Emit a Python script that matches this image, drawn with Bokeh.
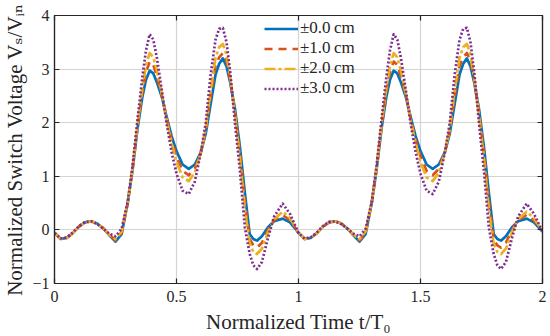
from bokeh.plotting import figure
from bokeh.models import (LinearAxis, Range1d, Legend, LegendItem, FixedTicker,
                          CustomJSTickFormatter)
from bokeh.embed import file_html
from bokeh.resources import INLINE

# Normalized time t/T0
t = [0, 0.025, 0.05, 0.075, 0.1, 0.125, 0.15, 0.175, 0.2, 0.225, 0.25, 0.275, 0.3, 0.32,
     0.34, 0.36, 0.375, 0.39, 0.405, 0.42, 0.44, 0.46, 0.48, 0.5, 0.525, 0.55, 0.575, 0.6,
     0.62, 0.64, 0.66, 0.675, 0.69, 0.705, 0.72, 0.74, 0.76, 0.78, 0.8, 0.815, 0.83, 0.85,
     0.875, 0.9, 0.935, 0.965,
     1.0, 1.025, 1.05, 1.075, 1.1, 1.125, 1.15, 1.175, 1.2, 1.225, 1.25, 1.275, 1.3, 1.32,
     1.34, 1.36, 1.375, 1.39, 1.405, 1.42, 1.44, 1.46, 1.48, 1.5, 1.525, 1.55, 1.575, 1.6,
     1.62, 1.64, 1.66, 1.675, 1.69, 1.705, 1.72, 1.74, 1.76, 1.78, 1.8, 1.815, 1.83, 1.85,
     1.875, 1.9, 1.935, 1.965, 2.0]

v_0cm = [-0.05, -0.17, -0.15, -0.06, 0.06, 0.14, 0.16, 0.12, 0.03, -0.10, -0.22, -0.08, 0.50,
         1.12, 1.88, 2.48, 2.80, 2.97, 2.92, 2.75, 2.48, 2.10, 1.75, 1.47, 1.22, 1.14, 1.22,
         1.45, 1.80, 2.35, 2.90, 3.10, 3.20, 3.05, 2.75, 2.25, 1.55, 0.70, -0.08, -0.17,
         -0.20, -0.12, 0.05, 0.16, 0.21, 0.14,
         -0.05, -0.17, -0.15, -0.06, 0.06, 0.14, 0.16, 0.12, 0.03, -0.10, -0.22, -0.08, 0.50,
         1.12, 1.88, 2.48, 2.80, 2.97, 2.92, 2.75, 2.48, 2.10, 1.75, 1.47, 1.22, 1.14, 1.22,
         1.45, 1.80, 2.35, 2.90, 3.10, 3.20, 3.05, 2.75, 2.25, 1.55, 0.70, -0.08, -0.17,
         -0.20, -0.12, 0.05, 0.16, 0.21, 0.14, -0.03]

v_1cm = [-0.05, -0.17, -0.15, -0.06, 0.06, 0.14, 0.16, 0.12, 0.03, -0.09, -0.20, -0.06, 0.50,
         1.14, 1.92, 2.57, 2.94, 3.14, 3.08, 2.86, 2.51, 2.07, 1.68, 1.37, 1.10, 1.02, 1.14,
         1.45, 1.85, 2.49, 3.06, 3.22, 3.30, 3.16, 2.80, 2.18, 1.44, 0.54, -0.17, -0.29,
         -0.33, -0.24, 0.00, 0.18, 0.28, 0.18,
         -0.05, -0.17, -0.15, -0.06, 0.06, 0.14, 0.16, 0.12, 0.03, -0.09, -0.20, -0.06, 0.50,
         1.14, 1.92, 2.57, 2.94, 3.14, 3.08, 2.86, 2.51, 2.07, 1.68, 1.37, 1.10, 1.02, 1.14,
         1.45, 1.85, 2.49, 3.06, 3.22, 3.30, 3.16, 2.80, 2.18, 1.44, 0.54, -0.17, -0.29,
         -0.33, -0.24, 0.00, 0.18, 0.28, 0.18, -0.03]

v_2cm = [-0.05, -0.17, -0.15, -0.06, 0.06, 0.14, 0.16, 0.12, 0.03, -0.09, -0.17, -0.03, 0.51,
         1.16, 1.96, 2.66, 3.06, 3.30, 3.22, 2.97, 2.54, 2.04, 1.61, 1.27, 0.98, 0.91, 1.07,
         1.45, 1.90, 2.61, 3.21, 3.41, 3.47, 3.27, 2.85, 2.12, 1.33, 0.39, -0.26, -0.41,
         -0.45, -0.35, -0.05, 0.20, 0.34, 0.22,
         -0.05, -0.17, -0.15, -0.06, 0.06, 0.14, 0.16, 0.12, 0.03, -0.09, -0.17, -0.03, 0.51,
         1.16, 1.96, 2.66, 3.06, 3.30, 3.22, 2.97, 2.54, 2.04, 1.61, 1.27, 0.98, 0.91, 1.07,
         1.45, 1.90, 2.61, 3.21, 3.41, 3.47, 3.27, 2.85, 2.12, 1.33, 0.39, -0.26, -0.41,
         -0.45, -0.35, -0.05, 0.20, 0.34, 0.22, -0.03]

v_3cm = [-0.06, -0.16, -0.14, -0.05, 0.07, 0.15, 0.16, 0.11, 0.02, -0.07, -0.12, 0.02, 0.52,
         1.20, 2.05, 2.85, 3.35, 3.65, 3.55, 3.20, 2.60, 1.97, 1.45, 1.05, 0.73, 0.67, 0.90,
         1.45, 2.00, 2.90, 3.55, 3.75, 3.77, 3.50, 2.95, 1.98, 1.10, 0.05, -0.45, -0.66,
         -0.73, -0.60, -0.15, 0.25, 0.49, 0.30,
         -0.06, -0.16, -0.14, -0.05, 0.07, 0.15, 0.16, 0.11, 0.02, -0.07, -0.12, 0.02, 0.52,
         1.20, 2.05, 2.85, 3.35, 3.65, 3.55, 3.20, 2.60, 1.97, 1.45, 1.05, 0.73, 0.67, 0.90,
         1.45, 2.00, 2.90, 3.55, 3.75, 3.77, 3.50, 2.95, 1.98, 1.10, 0.05, -0.45, -0.66,
         -0.73, -0.60, -0.15, 0.25, 0.49, 0.30, -0.03]

series = [v_0cm, v_1cm, v_2cm, v_3cm]
labels = ["\u00b10.0\u2009cm", "\u00b11.0\u2009cm", "\u00b12.0\u2009cm", "\u00b13.0\u2009cm"]
x_ticks = [0, 0.5, 1, 1.5, 2]
y_ticks = [-1, 0, 1, 2, 3, 4]

colors = ["#0072BD", "#D95319", "#EDB120", "#7E2F8E"]
dashes = ["solid", "8 6", "11 3 3 3", "2 2"]

FONT = "'Liberation Serif', 'DejaVu Serif', serif"
AX = "#262626"

p = figure(width=550, height=336, output_backend="svg", toolbar_location=None,
           x_range=Range1d(0, 2), y_range=Range1d(-1, 4),
           min_border_left=53, min_border_right=8, min_border_top=15, min_border_bottom=53)
p.outline_line_color = AX
p.outline_line_width = 1.2
p.background_fill_color = "white"
p.border_fill_color = "white"

fmt = CustomJSTickFormatter(code="return (tick < 0 ? '\\u2212' : '') + Math.abs(tick).toString();")

for ax, ticks in ((p.xaxis[0], x_ticks), (p.yaxis[0], y_ticks)):
    ax.ticker = FixedTicker(ticks=ticks)
    ax.formatter = fmt
    ax.major_tick_in = 5
    ax.major_tick_out = 0
    ax.minor_tick_line_color = None
    ax.axis_line_color = AX
    ax.axis_line_width = 1.2
    ax.major_tick_line_color = AX
    ax.major_tick_line_width = 1.2
    ax.major_label_text_font = FONT
    ax.major_label_text_font_size = "16px"
    ax.major_label_text_color = AX
    ax.axis_label_text_font = FONT
    ax.axis_label_text_font_size = "21px"
    ax.axis_label_text_font_style = "normal"
    ax.axis_label_text_color = AX

p.xaxis.axis_label = "Normalized Time t/T\u2080"
p.yaxis.axis_label = "Normalized Switch Voltage V\u209b/V\u1d62\u2099"
p.xaxis.major_label_standoff = 7
p.xaxis.axis_label_standoff = 5
p.yaxis.major_label_standoff = 5
p.yaxis.axis_label_standoff = 2

blank = CustomJSTickFormatter(code="return '';")
for place, ticks in (("right", y_ticks), ("above", x_ticks)):
    ax = LinearAxis(ticker=FixedTicker(ticks=ticks), formatter=blank)
    ax.major_label_text_font_size = "1px"
    ax.major_label_standoff = 0
    ax.major_tick_in = 5
    ax.major_tick_out = 0
    ax.minor_tick_line_color = None
    ax.axis_line_color = AX
    ax.axis_line_width = 1.2
    ax.major_tick_line_color = AX
    ax.major_tick_line_width = 1.2
    p.add_layout(ax, place)

p.xgrid.ticker = FixedTicker(ticks=x_ticks)
p.ygrid.ticker = FixedTicker(ticks=y_ticks)
p.grid.grid_line_color = "#d4d4d4"
p.grid.grid_line_width = 1.2

items = []
for vals, lab, c, d in zip(series, labels, colors, dashes):
    r = p.line(t, vals, line_color=c, line_width=2.7, line_dash=d,
               line_cap="butt", line_join="round")
    items.append(LegendItem(label=lab, renderers=[r]))

legend = Legend(items=items, location=(210, 185), background_fill_alpha=0,
                border_line_alpha=0, padding=0, margin=0, spacing=0,
                label_height=19, glyph_height=19, glyph_width=34, label_standoff=2,
                label_text_font=FONT, label_text_font_size="17px",
                label_text_color=AX)
p.add_layout(legend)

open("out.html", "w").write(file_html(p, INLINE))
